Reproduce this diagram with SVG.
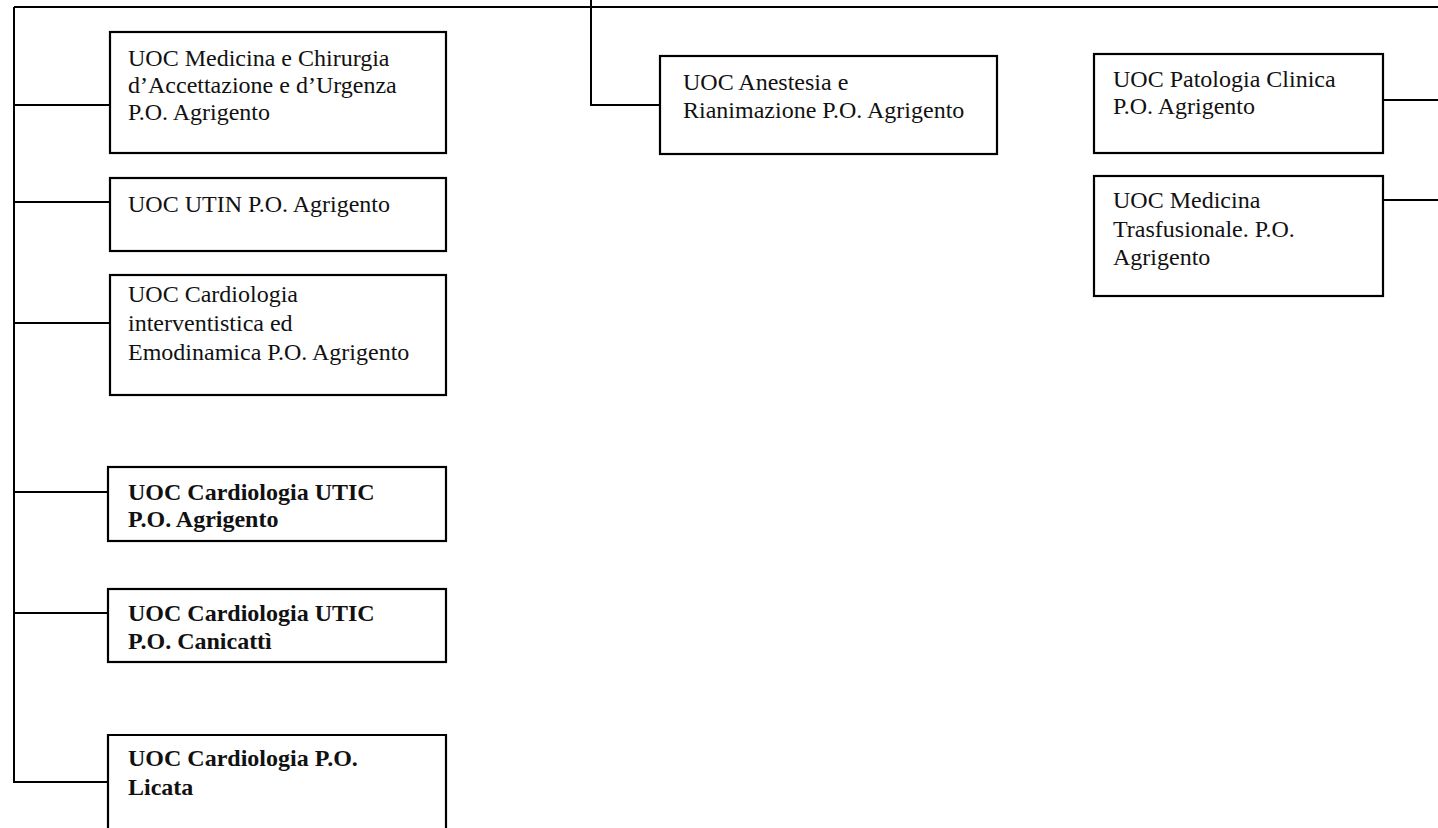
<svg xmlns="http://www.w3.org/2000/svg" width="1438" height="828" viewBox="0 0 1438 828">
<style>
.box{fill:#fff;stroke:#000;stroke-width:2.2}
.t{font-family:"Liberation Serif","Times New Roman",serif;font-size:24px;fill:#111}
.b{font-weight:bold}
.c{fill:none;stroke:#000;stroke-width:2}
</style>
<rect width="1438" height="828" fill="#fff"/>
<g id="connectors">
<path class="c" d="M14,7 H1438"/>
<path class="c" d="M14,7 V782 H108"/>
<path class="c" d="M14,105 H110"/>
<path class="c" d="M14,202 H110"/>
<path class="c" d="M14,323 H110"/>
<path class="c" d="M14,492 H108"/>
<path class="c" d="M14,613 H108"/>
<path class="c" d="M591,0 V105 H660"/>
<path class="c" d="M1383,100 H1438"/>
<path class="c" d="M1383,200 H1438"/>
</g>
<g id="n1"><rect class="box" x="110" y="32" width="336" height="121"/>
<text class="t" x="128" y="66">UOC Medicina e Chirurgia</text>
<text class="t" x="128" y="93">d’Accettazione  e d’Urgenza</text>
<text class="t" x="128" y="120">P.O. Agrigento</text></g>
<g id="n2"><rect class="box" x="110" y="178" width="336" height="73"/>
<text class="t" x="128" y="212">UOC UTIN P.O. Agrigento</text></g>
<g id="n3"><rect class="box" x="110" y="275" width="336" height="120"/>
<text class="t" x="128" y="302">UOC Cardiologia</text>
<text class="t" x="128" y="331">interventistica  ed</text>
<text class="t" x="128" y="360">Emodinamica P.O. Agrigento</text></g>
<g id="n4"><rect class="box" x="108" y="467" width="338" height="74"/>
<text class="t b" x="128" y="500">UOC Cardiologia UTIC</text>
<text class="t b" x="128" y="527">P.O. Agrigento</text></g>
<g id="n5"><rect class="box" x="108" y="589" width="338" height="73"/>
<text class="t b" x="128" y="621">UOC Cardiologia UTIC</text>
<text class="t b" x="128" y="649">P.O. Canicattì</text></g>
<g id="n6"><path class="box" d="M108,840 V735 H446 V840"/>
<text class="t b" x="128" y="766">UOC Cardiologia P.O.</text>
<text class="t b" x="128" y="795">Licata</text></g>
<g id="n7"><rect class="box" x="660" y="56" width="337" height="98"/>
<text class="t" x="683" y="90">UOC Anestesia e</text>
<text class="t" x="683" y="118">Rianimazione P.O. Agrigento</text></g>
<g id="n8"><rect class="box" x="1094" y="54" width="289" height="99"/>
<text class="t" x="1113" y="87">UOC Patologia Clinica</text>
<text class="t" x="1113" y="114">P.O. Agrigento</text></g>
<g id="n9"><rect class="box" x="1094" y="176" width="289" height="120"/>
<text class="t" x="1113" y="208">UOC Medicina</text>
<text class="t" x="1113" y="237">Trasfusionale. P.O.</text>
<text class="t" x="1113" y="265">Agrigento</text></g>
</svg>
